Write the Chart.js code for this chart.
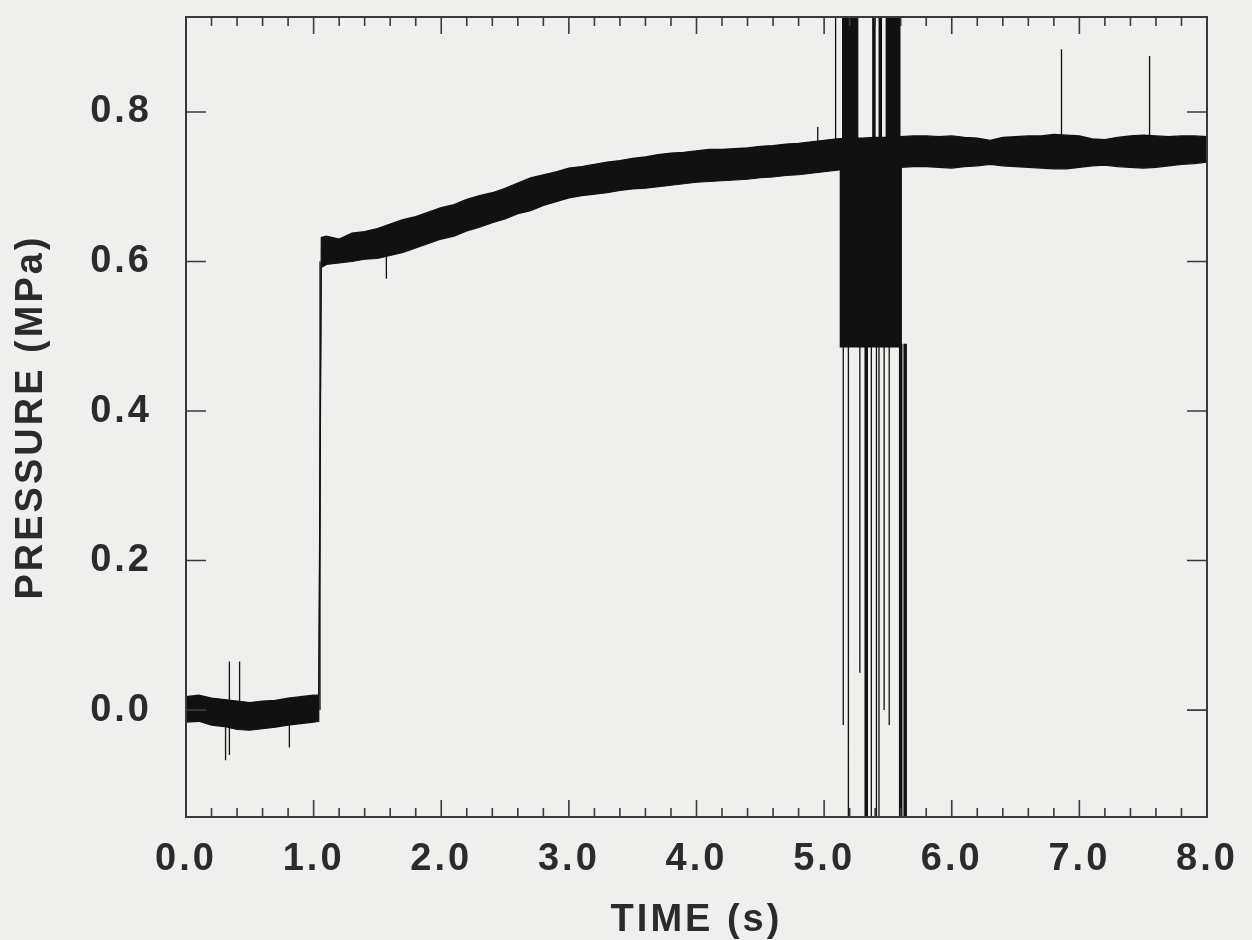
<!DOCTYPE html>
<html lang="en">
<head>
    <meta charset="UTF-8">
    <title>Pressure vs Time</title>
    <script src="https://cdn.jsdelivr.net/npm/chart.js"></script>
    <style>
        html, body {
            margin: 0;
            padding: 0;
            background: #efefee;
        }
        #wrap {
            width: 1252px;
            height: 940px;
        }
    </style>
</head>
<body>
    <div id="wrap"><canvas id="pressureChart"></canvas></div>

    <script>
        // Trace envelope (time in s, pressure in MPa)
        const bandTime = [0.0, 0.1, 0.2, 0.3, 0.4, 0.5, 0.6, 0.7, 0.8, 0.9, 1.0, 1.04,
            1.06, 1.1, 1.2, 1.3, 1.4, 1.5, 1.6, 1.7, 1.8, 1.9, 2.0, 2.1, 2.2, 2.3, 2.4, 2.5,
            2.6, 2.7, 2.8, 2.9, 3.0, 3.1, 3.2, 3.3, 3.4, 3.5, 3.6, 3.7, 3.8, 3.9, 4.0, 4.1,
            4.2, 4.3, 4.4, 4.5, 4.6, 4.7, 4.8, 4.9, 5.0, 5.1, 5.2, 5.3, 5.4, 5.5, 5.6, 5.7,
            5.8, 5.9, 6.0, 6.1, 6.2, 6.3, 6.4, 6.5, 6.6, 6.7, 6.8, 6.9, 7.0, 7.1, 7.2, 7.3,
            7.4, 7.5, 7.6, 7.7, 7.8, 7.9, 8.0];
        const bandHigh = [0.018, 0.020, 0.016, 0.014, 0.012, 0.010, 0.012, 0.013, 0.016, 0.018, 0.020, 0.020,
            0.632, 0.634, 0.630, 0.638, 0.640, 0.644, 0.650, 0.656, 0.660, 0.666, 0.672, 0.676, 0.683, 0.688, 0.692, 0.698,
            0.705, 0.712, 0.716, 0.720, 0.725, 0.727, 0.730, 0.733, 0.735, 0.738, 0.740, 0.743, 0.745, 0.746, 0.748, 0.750,
            0.750, 0.751, 0.752, 0.754, 0.755, 0.757, 0.758, 0.760, 0.762, 0.764, 0.765, 0.765, 0.766, 0.766, 0.767, 0.768,
            0.768, 0.767, 0.768, 0.766, 0.765, 0.762, 0.766, 0.767, 0.768, 0.768, 0.770, 0.769, 0.768, 0.764, 0.763, 0.766,
            0.768, 0.769, 0.768, 0.767, 0.768, 0.768, 0.767];
        const bandLow = [-0.016, -0.015, -0.020, -0.022, -0.026, -0.027, -0.025, -0.023, -0.020, -0.018, -0.016, -0.015,
            0.592, 0.596, 0.598, 0.600, 0.603, 0.604, 0.608, 0.612, 0.618, 0.624, 0.630, 0.634, 0.641, 0.646, 0.652, 0.657,
            0.664, 0.668, 0.675, 0.680, 0.685, 0.688, 0.690, 0.692, 0.695, 0.697, 0.698, 0.700, 0.702, 0.704, 0.706, 0.707,
            0.708, 0.709, 0.710, 0.712, 0.713, 0.715, 0.716, 0.718, 0.720, 0.722, 0.724, 0.724, 0.725, 0.726, 0.726, 0.727,
            0.727, 0.726, 0.725, 0.727, 0.728, 0.730, 0.728, 0.727, 0.726, 0.725, 0.724, 0.724, 0.726, 0.728, 0.729, 0.727,
            0.726, 0.725, 0.726, 0.728, 0.730, 0.731, 0.733];

        // Spikes: [time, low, high]
        const thinSpikes = [
            [0.31, -0.067, 0.0], [0.34, -0.060, 0.065], [0.42, 0.0, 0.065], [0.81, -0.050, 0.0],
            [1.05, 0.0, 0.60], [1.57, 0.577, 0.62], [4.95, 0.74, 0.78],
            [6.86, 0.74, 0.884], [7.55, 0.74, 0.875], [5.09, 0.74, 0.95],
            [5.15, -0.02, 0.49], [5.19, -0.20, 0.49], [5.37, -0.20, 0.49], [5.41, -0.20, 0.49],
            [5.43, -0.20, 0.49], [5.47, 0.0, 0.49], [5.51, -0.02, 0.49], [5.28, 0.05, 0.49]
        ];
        const thickSpikes = [
            [5.33, -0.20, 0.49], [5.60, -0.20, 0.49], [5.635, -0.20, 0.49],
            [5.39, 0.74, 0.95], [5.44, 0.74, 0.95]
        ];
        // Dense bursts: [start, end, low, high]
        const bursts = [
            [5.12, 5.61, 0.485, 0.75],
            [5.14, 5.27, 0.75, 0.95],
            [5.48, 5.60, 0.75, 0.95]
        ];

        const yTicks = [0.0, 0.2, 0.4, 0.6, 0.8];
        const xTicks = [0, 1, 2, 3, 4, 5, 6, 7, 8];

        const ink = '#111111';
        const textColor = '#2b2b2b';
        const fontFamily = '"Liberation Sans", Arial, sans-serif';

        function spikeData(list) {
            const pts = [];
            list.forEach(s => {
                pts.push({ x: s[0], y: s[1] }, { x: s[0], y: s[2] }, { x: s[0], y: null });
            });
            return pts;
        }

        const datasets = [
            {
                data: bandTime.map((t, i) => ({ x: t, y: bandLow[i] })),
                borderColor: ink, borderWidth: 1.2, pointRadius: 0, fill: false
            },
            {
                data: bandTime.map((t, i) => ({ x: t, y: bandHigh[i] })),
                borderColor: ink, borderWidth: 1.2, pointRadius: 0,
                backgroundColor: ink, fill: '-1'
            },
            {
                data: spikeData(thinSpikes),
                borderColor: ink, borderWidth: 1.3, pointRadius: 0, spanGaps: false, fill: false
            },
            {
                data: spikeData(thickSpikes),
                borderColor: ink, borderWidth: 3.5, pointRadius: 0, spanGaps: false, fill: false
            }
        ];
        bursts.forEach(b => {
            datasets.push({
                data: [{ x: b[0], y: b[3] }, { x: b[1], y: b[3] }],
                borderColor: ink, borderWidth: 1, pointRadius: 0,
                backgroundColor: ink, fill: { value: b[2] }
            });
        });

        // page background + letter spacing for the bold labels
        const paper = {
            id: 'paper',
            beforeDraw(chart) {
                const ctx = chart.ctx;
                ctx.save();
                ctx.fillStyle = '#efefee';
                ctx.fillRect(0, 0, chart.width, chart.height);
                ctx.restore();
                ctx.letterSpacing = '3px';
            }
        };

        // box frame with inward tick marks on all four sides
        const frameTicks = {
            id: 'frameTicks',
            afterDatasetsDraw(chart) {
                const { ctx, chartArea: a, scales: { x, y } } = chart;
                ctx.save();
                ctx.strokeStyle = '#3a3a3a';
                ctx.lineWidth = 2;
                ctx.strokeRect(a.left, a.top, a.right - a.left, a.bottom - a.top);
                ctx.lineWidth = 1.6;
                ctx.beginPath();
                for (let i = 0; i < xTicks.length; i++) {
                    for (let k = 0; k < 5; k++) {
                        const v = xTicks[i] + k * 0.2;
                        if (v > x.max + 1e-6) break;
                        const px = x.getPixelForValue(v);
                        const len = k === 0 ? 17 : 9;
                        ctx.moveTo(px, a.bottom); ctx.lineTo(px, a.bottom - len);
                        ctx.moveTo(px, a.top); ctx.lineTo(px, a.top + len);
                    }
                }
                yTicks.forEach(v => {
                    const py = y.getPixelForValue(v);
                    ctx.moveTo(a.left, py); ctx.lineTo(a.left + 20, py);
                    ctx.moveTo(a.right, py); ctx.lineTo(a.right - 20, py);
                });
                ctx.stroke();
                ctx.restore();
            }
        };

        new Chart(document.getElementById('pressureChart'), {
            type: 'line',
            data: { datasets: datasets },
            plugins: [paper, frameTicks],
            options: {
                responsive: true,
                maintainAspectRatio: false,
                animation: false,
                layout: { padding: { top: 17, right: 45, left: 0, bottom: 0 } },
                plugins: {
                    legend: { display: false },
                    tooltip: { enabled: false }
                },
                scales: {
                    x: {
                        type: 'linear',
                        min: 0,
                        max: 8,
                        afterFit: s => {
                            s.height = 123;
                            s.paddingLeft = 0;
                            s.paddingRight = 0;
                        },
                        afterBuildTicks: s => { s.ticks = xTicks.map(v => ({ value: v })); },
                        grid: { display: false },
                        border: { display: false },
                        ticks: {
                            padding: 12,
                            color: textColor,
                            font: { family: fontFamily, size: 38, weight: 'bold' },
                            callback: v => v.toFixed(1)
                        },
                        title: {
                            display: true,
                            text: 'TIME (s)',
                            color: textColor,
                            padding: { top: 0, bottom: 0 },
                            font: { family: fontFamily, size: 38, weight: 'bold', lineHeight: 1 }
                        }
                    },
                    y: {
                        min: -0.143,
                        max: 0.927,
                        afterFit: s => {
                            s.width = 186;
                            s.paddingTop = 0;
                            s.paddingBottom = 0;
                        },
                        afterBuildTicks: s => { s.ticks = yTicks.map(v => ({ value: v })); },
                        grid: { display: false },
                        border: { display: false },
                        ticks: {
                            padding: 26,
                            color: textColor,
                            font: { family: fontFamily, size: 38, weight: 'bold' },
                            callback: v => v.toFixed(1)
                        },
                        title: {
                            display: true,
                            text: 'PRESSURE (MPa)',
                            color: textColor,
                            padding: { top: 13, bottom: 0 },
                            font: { family: fontFamily, size: 38, weight: 'bold', lineHeight: 1 }
                        }
                    }
                }
            }
        });
    </script>
</body>
</html>
